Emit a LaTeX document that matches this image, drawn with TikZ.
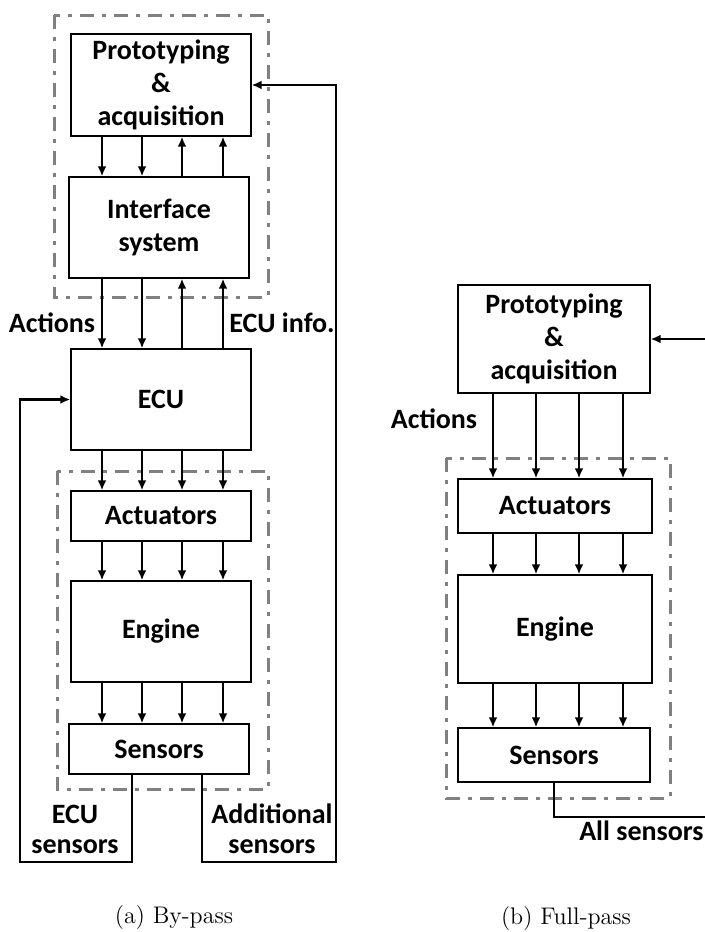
\documentclass[tikz,border=0pt]{standalone}
\usepackage{fontspec}
\newfontfamily\calfont{Carlito}
\usetikzlibrary{arrows.meta}
\definecolor{grpgray}{RGB}{128,128,128}
\begin{document}
\begin{tikzpicture}[x=0.5pt,y=-0.5pt,
  box/.style={draw=black,line width=0.7pt,inner sep=0pt,align=center,
    font=\calfont\bfseries\fontsize{14}{16.5}\selectfont},
  lbl/.style={inner sep=0pt,align=center,font=\calfont\bfseries\fontsize{14}{15}\selectfont},
  arr/.style={line width=1.15pt,-{Latex[length=5pt,width=4.5pt]}},
  wire/.style={line width=1.15pt},
  grp/.style={draw=grpgray,line width=1.5pt,dash pattern=on 7pt off 4pt on 2pt off 4pt},
  captxt/.style={inner sep=0pt,font=\fontsize{12}{14}\selectfont}]
\useasboundingbox (0,0) rectangle (705,932);

% ---------- (a) By-pass ----------
\node[box,minimum width=90pt,minimum height=51pt] (p1) at (161,85) {Prototyping\\\&\\acquisition};
\node[box,minimum width=90pt,minimum height=50.5pt] (if1) at (159,227.5) {Interface\\system};
\node[box,minimum width=90pt,minimum height=50.5pt] (ecu) at (161,399.5) {ECU};
\node[box,minimum width=90pt,minimum height=25pt] (act1) at (161,516) {Actuators};
\node[box,minimum width=90pt,minimum height=50.5pt] (eng1) at (161,631.5) {Engine};
\node[box,minimum width=90pt,minimum height=25pt] (sen1) at (159,749) {Sensors};

\draw[grp] (54,15) rectangle (268,297);
\draw[grp] (57,471) rectangle (268,789);

\coordinate (a1) at (102,0);
\coordinate (a2) at (142,0);
\coordinate (a3) at (182,0);
\coordinate (a4) at (223,0);

\draw[arr] (p1.south -| a1) -- (if1.north -| a1);
\draw[arr] (p1.south -| a2) -- (if1.north -| a2);
\draw[arr] (if1.north -| a3) -- (p1.south -| a3);
\draw[arr] (if1.north -| a4) -- (p1.south -| a4);

\draw[arr] (if1.south -| a1) -- (ecu.north -| a1);
\draw[arr] (if1.south -| a2) -- (ecu.north -| a2);
\draw[arr] (ecu.north -| a3) -- (if1.south -| a3);
\draw[arr] (ecu.north -| a4) -- (if1.south -| a4);

\foreach \c in {a1,a2,a3,a4}{
  \draw[arr] (ecu.south -| \c) -- (act1.north -| \c);
  \draw[arr] (act1.south -| \c) -- (eng1.north -| \c);
  \draw[arr] (eng1.south -| \c) -- (sen1.north -| \c);
}

\coordinate (sl) at (132,0);
\coordinate (sr) at (202,0);
\coordinate (llb) at (20,862);
\coordinate (rlb) at (336,862);
\draw[arr] (sen1.south -| sl) |- (llb) |- (ecu.west);
\draw[arr] (sen1.south -| sr) |- (rlb) |- (p1.east);

\node[lbl] (lact1) at (52,323) {Actions};
\node[lbl] (linfo) at (282,323) {ECU info.};
\node[lbl] (lecus) at (75,829) {ECU\\sensors};
\node[lbl] (ladds) at (272,829) {Additional\\sensors};

\node[captxt] (capa) at (174,917) {(a) By-pass};

% ---------- (b) Full-pass ----------
\node[box,minimum width=96pt,minimum height=54pt] (p2) at (554,339) {Prototyping\\\&\\acquisition};
\node[box,minimum width=97pt,minimum height=27pt] (act2) at (555,506) {Actuators};
\node[box,minimum width=97pt,minimum height=54pt] (eng2) at (555,629) {Engine};
\node[box,minimum width=96pt,minimum height=27pt] (sen2) at (554,755) {Sensors};

\draw[grp] (446,458) rectangle (670,798);

\coordinate (b1) at (493,0);
\coordinate (b2) at (536,0);
\coordinate (b3) at (579,0);
\coordinate (b4) at (623,0);
\foreach \c in {b1,b2,b3,b4}{
  \draw[arr] (p2.south -| \c) -- (act2.north -| \c);
  \draw[arr] (act2.south -| \c) -- (eng2.north -| \c);
  \draw[arr] (eng2.south -| \c) -- (sen2.north -| \c);
}

\coordinate (re1) at (708,339);
\coordinate (re2) at (708,817);
\draw[arr] (re1) -- (p2.east);
\draw[wire] (sen2.south) |- (re2);

\node[lbl] (lact2) at (434,419) {Actions};
\node[lbl,anchor=east] (lall) at (704,831) {All sensors};

\node[captxt] (capb) at (566,918) {(b) Full-pass};
\end{tikzpicture}
\end{document}
